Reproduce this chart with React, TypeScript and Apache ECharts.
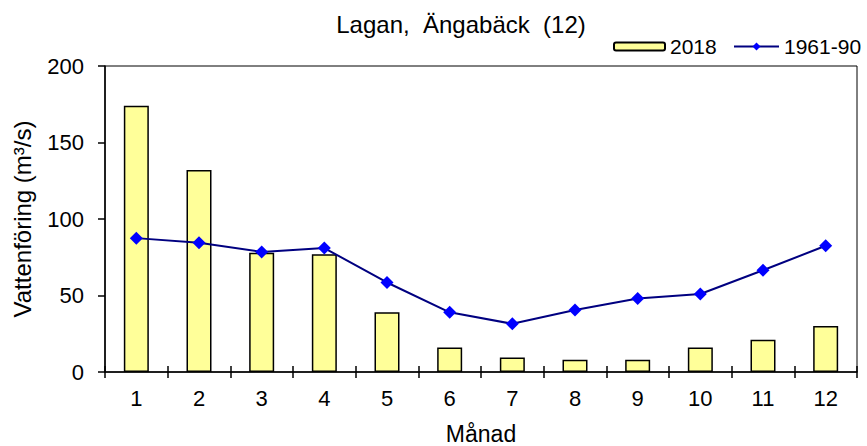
import React, { useEffect, useRef } from "react";
import * as echarts from "echarts";

const months = ["1", "2", "3", "4", "5", "6", "7", "8", "9", "10", "11", "12"];
const flow2018 = [174, 132, 78, 77, 39, 16, 9.5, 8, 8, 16, 21, 30];
const normal6190 = [87.5, 84.5, 78.5, 81, 58.5, 39, 31.5, 40.5, 48, 51, 66.5, 82.5];
const yTicks = { min: 0, max: 200, interval: 50 };

const FONT = "'Liberation Sans', Arial, sans-serif";

export default function App() {
  const ref = useRef<HTMLDivElement>(null);
  useEffect(() => {
    if (!ref.current) return;
    const chart = echarts.init(ref.current, undefined, { renderer: "svg" });
    chart.setOption({
      animation: false,
      backgroundColor: "#fff",
      textStyle: { fontFamily: FONT, color: "#000" },
      title: {
        text: "Lagan,  Ängabäck  (12)",
        left: 456,
        top: 7,
        textAlign: "center",
        textStyle: { fontFamily: FONT, fontSize: 24, fontWeight: "normal", color: "#000" },
      },
      legend: [
        {
          data: ["2018"],
          left: 608,
          top: 31,
          itemWidth: 51,
          itemHeight: 8,
          textStyle: { fontFamily: FONT, fontSize: 21, color: "#000" },
        },
        {
          data: ["1961-90"],
          left: 728,
          top: 31,
          itemWidth: 45,
          itemHeight: 10,
          textStyle: { fontFamily: FONT, fontSize: 21, color: "#000" },
        },
      ],
      grid: {
        left: 105,
        right: 10,
        top: 66,
        bottom: 74,
        outerBoundsMode: "none",
        containLabel: false,
        show: true,
        borderColor: "#000",
        borderWidth: 1,
      },
      xAxis: [
        {
          type: "category",
          data: months,
          name: "Månad",
          nameLocation: "middle",
          nameGap: 50,
          nameTextStyle: { fontFamily: FONT, fontSize: 23, color: "#000" },
          axisLine: { lineStyle: { color: "#000", width: 1.5 } },
          axisTick: { show: true, length: 6, lineStyle: { color: "#000", width: 1.5 } },
          axisLabel: { fontFamily: FONT, fontSize: 22, color: "#000", margin: 15 },
        },
        {
          type: "category",
          data: months,
          position: "bottom",
          gridIndex: 0,
          axisLine: { show: false },
          axisTick: { show: true, inside: true, length: 6, lineStyle: { color: "#000", width: 1.5 } },
          axisLabel: { show: false },
        },
      ],
      yAxis: {
        type: "value",
        min: yTicks.min,
        max: yTicks.max,
        interval: yTicks.interval,
        name: "Vattenföring (m³/s)",
        nameLocation: "middle",
        nameGap: 71,
        nameTextStyle: { fontFamily: FONT, fontSize: 24, color: "#000" },
        axisLine: { show: true, lineStyle: { color: "#000", width: 1.5 } },
        axisTick: { show: true, length: 7, lineStyle: { color: "#000", width: 1.5 } },
        axisLabel: { fontFamily: FONT, fontSize: 22, color: "#000", margin: 21 },
        splitLine: { show: false },
      },
      series: [
        {
          name: "2018",
          type: "bar",
          data: flow2018,
          barWidth: 25,
          itemStyle: { color: "#FFFF99", borderColor: "#000", borderWidth: 1.5 },
        },
        {
          name: "1961-90",
          type: "line",
          data: normal6190,
          symbol: "diamond",
          symbolSize: 13,
          lineStyle: { color: "#000080", width: 2 },
          itemStyle: { color: "#0000FF" },
        },
      ],
    });
    return () => chart.dispose();
  }, []);
  return <div ref={ref} style={{ width: 867, height: 446, position: "absolute", left: 0, top: 0 }} />;
}
